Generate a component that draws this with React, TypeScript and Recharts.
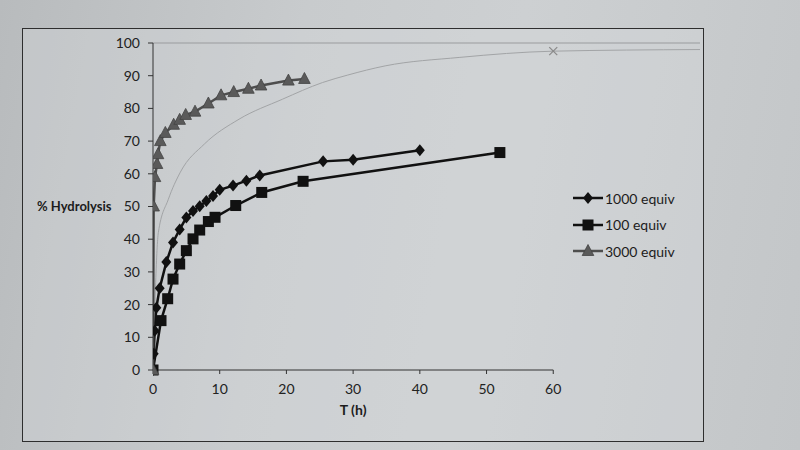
import React from "react";
import { LineChart, Line, XAxis, YAxis, ReferenceLine, Legend } from "recharts";

// 1000 equiv
const t1000 = [0, 0.1, 0.25, 0.5, 1, 2, 3, 4, 5, 6, 7, 8, 9, 10, 12, 14, 16, 25.5, 30, 40];
const y1000 = [0, 5, 12, 19, 25, 33, 39, 43, 46.6, 48.6, 50.1, 51.7, 53.2, 55.1, 56.4, 57.9, 59.5, 63.8, 64.3, 67.2];

// 100 equiv
const t100 = [0, 1.2, 2.2, 3, 4, 5, 6, 7, 8.3, 9.3, 12.4, 16.3, 22.5, 52];
const y100 = [0, 15.1, 21.8, 27.8, 32.4, 36.5, 40.1, 42.8, 45.4, 46.7, 50.3, 54.3, 57.7, 66.5];

// 3000 equiv
const t3000 = [0, 0.1, 0.3, 0.6, 0.75, 1.1, 1.85, 3.1, 4, 4.9, 6.3, 8.3, 10.2, 12.1, 14.3, 16.2, 20.3, 22.7];
const y3000 = [0, 50, 59, 63, 66, 70, 72.5, 75, 76.5, 78, 79, 81.5, 84, 85, 86, 87, 88.5, 89];

// thin grey curve (no legend entry), marked with an x at its end point
const tFit = [0, 0.8, 2.3, 4.1, 7.7, 12.9, 19.4, 25.4, 29.2, 34.8, 46, 60, 82];
const yFit = [0, 42, 52.2, 60.5, 69.1, 76.7, 82.8, 87.9, 90.2, 93, 95.6, 97.5, 98];
const FIT_MARK_T = 60;

const xTicks = [0, 10, 20, 30, 40, 50, 60];
const yTicks = [0, 10, 20, 30, 40, 50, 60, 70, 80, 90, 100];
const X_MAX = 82;

const FONT = "Lato, 'Open Sans', sans-serif";

const toPoints = (ts: number[], ys: number[]) => ts.map((t, i) => ({ t, y: ys[i] }));

const Diamond = (p: any) => {
  const { cx, cy, index } = p;
  if (cx == null || cy == null) return <g key={`dm-${index}`} />;
  return <path key={`dm-${index}`} d={`M${cx},${cy - 6}L${cx + 5},${cy}L${cx},${cy + 6}L${cx - 5},${cy}Z`} fill="#111" />;
};

const Square = (p: any) => {
  const { cx, cy, index } = p;
  if (cx == null || cy == null) return <g key={`sq-${index}`} />;
  return <rect key={`sq-${index}`} x={cx - 5.5} y={cy - 5.5} width={11} height={11} fill="#111" />;
};

const Triangle = (p: any) => {
  const { cx, cy, index } = p;
  if (cx == null || cy == null) return <g key={`tr-${index}`} />;
  return (
    <path
      key={`tr-${index}`}
      d={`M${cx},${cy - 6.5}L${cx + 5.8},${cy + 4.5}L${cx - 5.8},${cy + 4.5}Z`}
      fill="#5a5a5a"
      stroke="#444"
      strokeWidth={0.8}
    />
  );
};

const FitMark = (p: any) => {
  const { cx, cy, index, payload } = p;
  if (!payload || payload.t !== FIT_MARK_T) return <g key={`fx-${index}`} />;
  return (
    <g key={`fx-${index}`} stroke="#8a8a8a" strokeWidth={1.2}>
      <line x1={cx - 4} y1={cy - 4} x2={cx + 4} y2={cy + 4} />
      <line x1={cx - 4} y1={cy + 4} x2={cx + 4} y2={cy - 4} />
    </g>
  );
};

const series = [
  { name: "1000 equiv", data: toPoints(t1000, y1000), color: "#111", dot: Diamond },
  { name: "100 equiv", data: toPoints(t100, y100), color: "#111", dot: Square },
  { name: "3000 equiv", data: toPoints(t3000, y3000), color: "#4e4e4e", dot: Triangle },
];

const LegendBox = () => (
  <div style={{ fontFamily: FONT, fontSize: 14, color: "#1c1c1c" }}>
    {series.map((s) => {
      const Mk = s.dot;
      return (
        <div key={s.name} style={{ display: "flex", alignItems: "center", height: 26.5 }}>
          <svg width={32} height={14}>
            <line x1={1} y1={7} x2={31} y2={7} stroke={s.color} strokeWidth={2.5} />
            <Mk cx={16} cy={7} index={0} />
          </svg>
          <span style={{ marginLeft: 1 }}>{s.name}</span>
        </div>
      );
    })}
  </div>
);

const XTitle = (p: any) => {
  const vb = p.viewBox || {};
  return (
    <text
      x={vb.x + (vb.width * 60) / X_MAX / 2}
      y={vb.y + 45}
      textAnchor="middle"
      fontFamily={FONT}
      fontSize={14}
      fontWeight="bold"
      fill="#1c1c1c"
    >
      T (h)
    </text>
  );
};

const App = () => {
  return (
    <div
      style={{
        position: "absolute",
        left: 0,
        top: 0,
        width: 800,
        height: 450,
        overflow: "hidden",
        background: "linear-gradient(100deg, #b8bbbd 0%, #c8cbcd 35%, #cdd0d2 60%, #c3c6c8 100%)",
      }}
    >
      <div
        style={{
          position: "absolute",
          left: 22,
          top: 28,
          width: 680,
          height: 412,
          border: "1px solid #2e2e2e",
          background: "rgba(215,219,221,0.35)",
        }}
      />
      <div style={{ position: "absolute", left: 0, top: 0 }}>
        <LineChart width={800} height={450} margin={{ top: 43, right: 100, bottom: 50, left: 0 }}>
          <XAxis
            type="number"
            dataKey="t"
            domain={[0, X_MAX]}
            ticks={xTicks}
            allowDataOverflow
            axisLine={false}
            tickLine={{ stroke: "#333" }}
            tickSize={4}
            tickMargin={10}
            height={30}
            tick={{ fontFamily: FONT, fontSize: 14, fill: "#222" }}
            label={<XTitle />}
          />
          <YAxis
            type="number"
            dataKey="y"
            domain={[0, 100]}
            ticks={yTicks}
            width={153}
            axisLine={{ stroke: "#333" }}
            tickLine={{ stroke: "#333" }}
            tickSize={5}
            tickMargin={8}
            tick={{ fontFamily: FONT, fontSize: 14, fill: "#222" }}
            label={{
              value: "% Hydrolysis",
              position: "insideLeft",
              offset: 37,
              style: { fontFamily: FONT, fontSize: 13, fontWeight: "bold", fill: "#1c1c1c" },
            }}
          />
          <ReferenceLine y={100} stroke="#9a9c9e" strokeWidth={1.2} />
          <ReferenceLine
            segment={[
              { x: 0, y: 0 },
              { x: 60, y: 0 },
            ]}
            stroke="#333"
            strokeWidth={1}
          />
          <Line
            data={toPoints(tFit, yFit)}
            dataKey="y"
            type="monotone"
            stroke="#a2a4a6"
            strokeWidth={1}
            dot={FitMark}
            activeDot={false}
            legendType="none"
            isAnimationActive={false}
          />
          {series.map((s) => (
            <Line
              key={s.name}
              name={s.name}
              data={s.data}
              dataKey="y"
              type="linear"
              stroke={s.color}
              strokeWidth={2.5}
              dot={s.dot}
              activeDot={false}
              isAnimationActive={false}
            />
          ))}
          <Legend
            layout="vertical"
            align="center"
            verticalAlign="middle"
            content={<LegendBox />}
            wrapperStyle={{ left: 572, top: 185, width: 130 }}
          />
        </LineChart>
      </div>
    </div>
  );
};

export default App;
